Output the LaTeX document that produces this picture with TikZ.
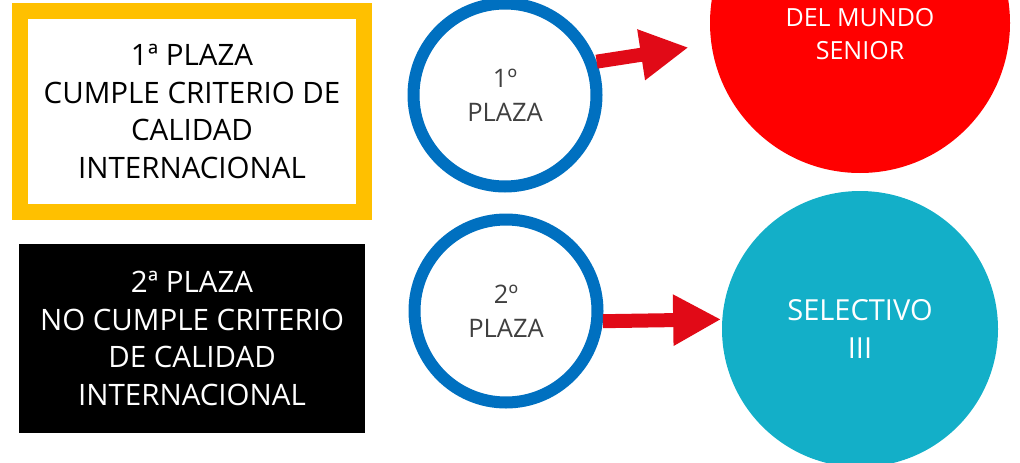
\documentclass[tikz,border=0pt]{standalone}
\usepackage{fontspec}
\setmainfont{Open Sans}
\usetikzlibrary{arrows.meta}

\definecolor{plazayellow}{HTML}{FFC000}
\definecolor{ringblue}{HTML}{0070C0}
\definecolor{mundored}{HTML}{FF0000}
\definecolor{selteal}{HTML}{13AFC8}
\definecolor{arrowred}{HTML}{E10A17}
\definecolor{ringtext}{HTML}{404040}

\begin{document}
\begin{tikzpicture}[
            x = 1pt, y = -1pt, % pixel grid, y runs downwards
            > = {Triangle[length=48pt, width=48pt]}, % arrow head style
            line cap = butt
        ]

        \tikzstyle{plaza box}=[
            rectangle,
            inner sep = 0pt,
            align = center,
            font = \fontsize{29.5}{37.5}\selectfont
        ]
        \tikzstyle{ring}=[
            circle,
            draw = ringblue,
            line width = 12pt,
            fill = white,
            minimum size = 183pt,
            inner sep = 0pt,
            align = center,
            text = ringtext,
            font = \fontsize{25.5}{34}\selectfont
        ]
        \tikzstyle{goal}=[
            circle,
            inner sep = 0pt,
            align = center,
            text = white,
            font = \fontsize{29}{38}\selectfont
        ]
        \tikzstyle{red arrow}=[
            ->,
            draw = arrowred,
            line width = 14pt
        ]

        \useasboundingbox (0,0) rectangle (1020,463);

	\node[plaza box, draw=plazayellow, line width=16pt, fill=white,
	      minimum width=344pt, minimum height=201pt] (p1) at (192,111.5)
	      {1ª PLAZA\\CUMPLE CRITERIO DE\\CALIDAD\\INTERNACIONAL};
	\node[plaza box, fill=black, text=white,
	      minimum width=346pt, minimum height=189pt] (p2) at (192,338.5)
	      {2ª PLAZA\\NO CUMPLE CRITERIO\\DE CALIDAD\\INTERNACIONAL};

	\node[ring] (r1) at (505,95) {1º\\PLAZA};
	\node[ring] (r2) at (506,311) {2º\\PLAZA};

	\node[goal, fill=mundored, minimum size=300pt] (mundo) at (860,23) {};
	\node[goal, font=\fontsize{25}{33}\selectfont] (mundotext)
	      at ([yshift=-11.5pt]mundo.center) {DEL MUNDO\\SENIOR};
	\node[goal, fill=selteal, minimum size=276pt] (selectivo) at (860,329)
	      {SELECTIVO\\III};

        \draw[red arrow, shorten > = 23pt] (r1.20) -- (mundo.188);
        \draw[red arrow, shorten > = 1pt] (r2.-6) -- (selectivo.176.5);

    \end{tikzpicture}
\end{document}
